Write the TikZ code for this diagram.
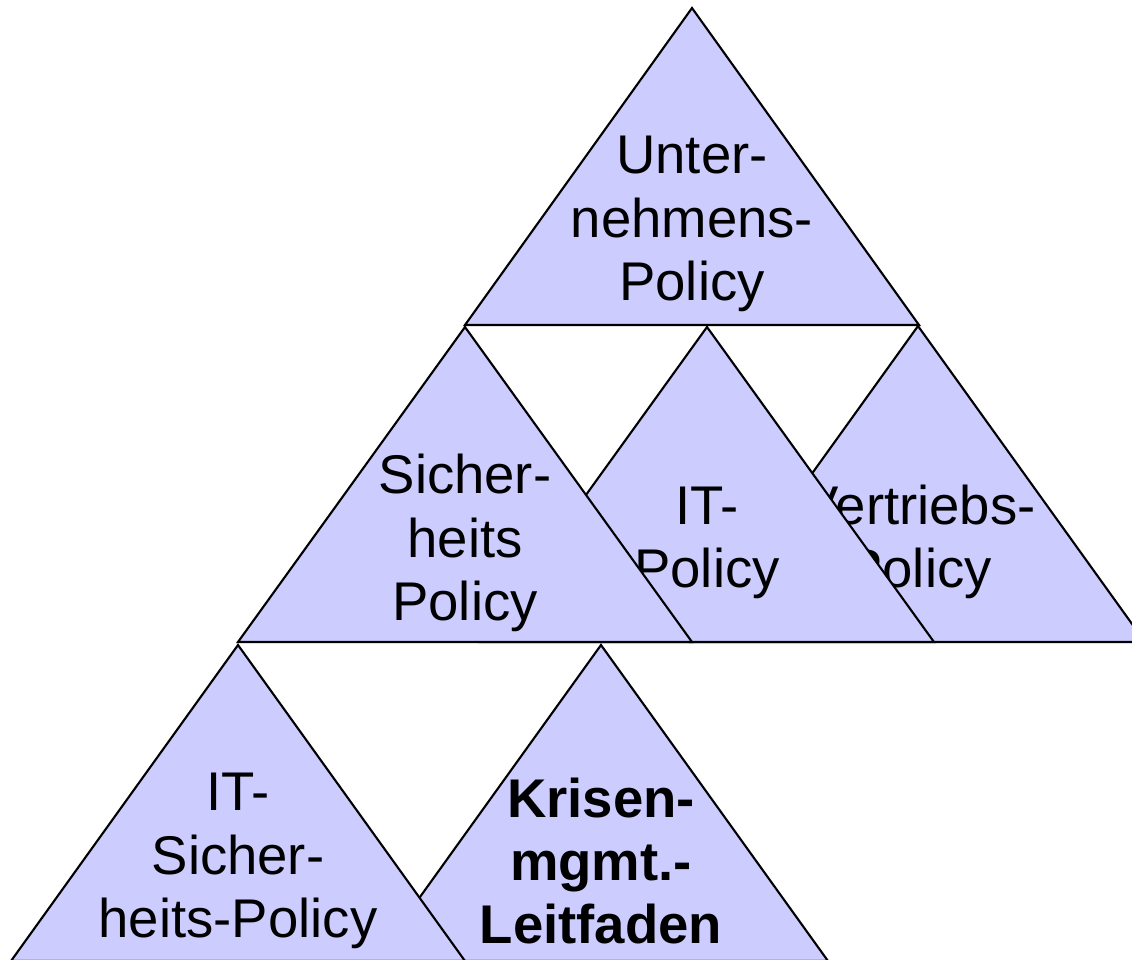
\documentclass[tikz,border=0pt]{standalone}
\usepackage{fontspec}
\setmainfont{Liberation Sans}
\usetikzlibrary{positioning}
\definecolor{policyfill}{HTML}{CCCCFF}
\tikzset{
  policy/.style={fill=policyfill,draw=black,line width=0.6pt,line join=miter},
  policy text/.style={align=center,inner sep=0pt,
    font=\fontsize{15.5}{18}\selectfont},
  policy apex/.style={yshift=-2.16cm}
}

\begin{document}
\begin{tikzpicture}[x=0.01cm,y=-0.01cm]
  \useasboundingbox (0,0) rectangle (1132,960);
  % apexes of the policy triangles
  \coordinate (unternehmen) at (692,8);
  \coordinate (vertrieb) at (918,326);
  \coordinate (it) at (707,327);
  \coordinate (sicherheit) at (465,327);
  \coordinate (krisen) at (601,645);
  \coordinate (itsicherheit) at (238,645);
  % triangles with their labels, back to front
  \filldraw[policy] (unternehmen) -- ++(-227,317) -- ++(454,0) -- cycle;
  \node[policy text] (unternehmen text) at ([policy apex]unternehmen) {Unter-\\nehmens-\\Policy};
  \filldraw[policy] (vertrieb) -- ++(-227,316) -- ++(454,0) -- cycle;
  \node[policy text] (vertrieb text) at ([policy apex,xshift=0.01cm]vertrieb) {Vertriebs-\\Policy};
  \filldraw[policy] (it) -- ++(-227,315) -- ++(454,0) -- cycle;
  \node[policy text] (it text) at ([policy apex]it) {IT-\\Policy};
  \filldraw[policy] (sicherheit) -- ++(-227,315) -- ++(454,0) -- cycle;
  \node[policy text] (sicherheit text) at ([policy apex]sicherheit) {Sicher-\\heits\\Policy};
  \filldraw[policy] (krisen) -- ++(-227,316) -- ++(454,0) -- cycle;
  \node[policy text,font=\fontsize{15.5}{18}\selectfont\bfseries] (krisen text) at ([policy apex]krisen) {Krisen-\\mgmt.-\\Leitfaden};
  \filldraw[policy] (itsicherheit) -- ++(-227,316) -- ++(454,0) -- cycle;
  \node[policy text] (itsicherheit text) at ([policy apex]itsicherheit) {IT-\\Sicher-\\heits-Policy};
\end{tikzpicture}
\end{document}
